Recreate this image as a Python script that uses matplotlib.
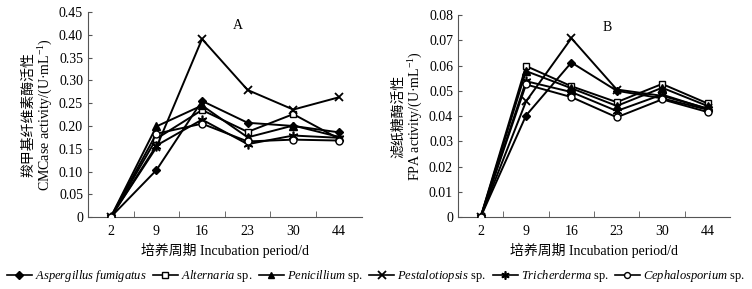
import matplotlib
matplotlib.use("Agg")
import matplotlib.pyplot as plt
from matplotlib.lines import Line2D

plt.rcParams['font.family'] = ['Liberation Serif', 'Noto Sans CJK SC']
plt.rcParams['mathtext.fontset'] = 'custom'
plt.rcParams['mathtext.rm'] = 'Liberation Serif'
plt.rcParams['mathtext.it'] = 'Liberation Serif:italic'

# incubation days (categorical)
days = ['2', '9', '16', '23', '30', '44']

legend_labels = [r'$\it{Aspergillus\ fumigatus}$',
                 r'$\it{Alternaria}$ sp.',
                 r'$\it{Penicillium}$ sp.',
                 r'$\it{Pestalotiopsis}$ sp.',
                 r'$\it{Tricherderma}$ sp.',
                 r'$\it{Cephalosporium}$ sp.']

# A: CMCase activity (U/mL)
cmc_asp = [0, 0.103, 0.255, 0.207, 0.200, 0.186]
cmc_alt = [0, 0.172, 0.235, 0.187, 0.226, 0.172]
cmc_pen = [0, 0.199, 0.245, 0.175, 0.201, 0.176]
cmc_pes = [0, 0.153, 0.391, 0.279, 0.236, 0.263]
cmc_tri = [0, 0.157, 0.214, 0.160, 0.179, 0.174]
cmc_cep = [0, 0.183, 0.205, 0.166, 0.170, 0.168]

# B: FPA activity (U/mL)
fpa_asp = [0, 0.0402, 0.0612, 0.0500, 0.0470, 0.0425]
fpa_alt = [0, 0.0598, 0.0518, 0.0455, 0.0527, 0.0450]
fpa_pen = [0, 0.0578, 0.0510, 0.0440, 0.0512, 0.0440]
fpa_pes = [0, 0.0458, 0.0708, 0.0505, 0.0480, 0.0430]
fpa_tri = [0, 0.0538, 0.0495, 0.0420, 0.0485, 0.0428]
fpa_cep = [0, 0.0525, 0.0475, 0.0395, 0.0466, 0.0416]

styles = [
    dict(marker='D', mfc='black', ms=4.5),
    dict(marker='s', mfc='white', ms=5),
    dict(marker='^', mfc='black', ms=5.5),
    dict(marker='x', mfc='black', ms=6, mew=1.3),
    dict(marker=(6, 2, 0), mfc='black', ms=7, mew=1.2),
    dict(marker='o', mfc='white', ms=5),
]

fig = plt.figure(figsize=(7.52, 2.89), dpi=100)
axA = fig.add_axes([0.117, 0.249, 0.364, 0.709])
axB = fig.add_axes([0.609, 0.249, 0.362, 0.699])


def draw(ax, series, ymax, ystep, yfmt, title, ylabel):
    x = list(range(len(days)))
    for vals, st in zip(series, styles):
        ax.plot(x, vals, color='black', lw=1.4, mec='black', zorder=3, **st)
    ax.set_xlim(-0.5, len(days) - 0.5)
    ax.set_ylim(0, ymax)
    yt = [i * ystep for i in range(int(round(ymax / ystep)) + 1)]
    ax.set_yticks(yt)
    ax.set_yticklabels(['0'] + [yfmt.format(v) for v in yt[1:]], fontsize=10)
    ax.set_xticks(x)
    ax.set_xticklabels(days, fontsize=10)
    ax.set_xticks([i + 0.5 for i in range(len(days) - 1)], minor=True)
    ax.tick_params(axis='x', which='major', length=0, pad=6)
    ax.tick_params(axis='x', which='minor', direction='in', length=4, color='#555555')
    ax.tick_params(axis='y', direction='in', length=3, color='#555555')
    for s in ['top', 'right']:
        ax.spines[s].set_visible(False)
    for s in ['left', 'bottom']:
        ax.spines[s].set_color('#555555')
    ax.text(0.53, 0.92, title, transform=ax.transAxes, fontsize=10)
    ax.set_xlabel('培养周期 Incubation period/d', fontsize=10, labelpad=3)
    ax.set_ylabel(ylabel, fontsize=10, labelpad=3, linespacing=1.1)


draw(axA, [cmc_asp, cmc_alt, cmc_pen, cmc_pes, cmc_tri, cmc_cep],
     0.45, 0.05, '{:.2f}', 'A',
     '羧甲基纤维素酶活性\nCMCase activity/(U·mL$^{-1}$)')
draw(axB, [fpa_asp, fpa_alt, fpa_pen, fpa_pes, fpa_tri, fpa_cep],
     0.08, 0.01, '{:.2f}', 'B',
     '滤纸糖酶活性\nFPA activity/(U·mL$^{-1}$)')

handles = [Line2D([], [], color='black', lw=1.2, mec='black',
                  **dict(st, ms=st['ms'] * 0.85)) for st in styles]
fig.legend(handles, legend_labels, loc='center', bbox_to_anchor=(0.5, 0.045),
           ncol=6, frameon=False, fontsize=9, handlelength=2.0,
           handletextpad=0.25, columnspacing=0.5, borderaxespad=0)

fig.savefig('out.png', dpi=100)
